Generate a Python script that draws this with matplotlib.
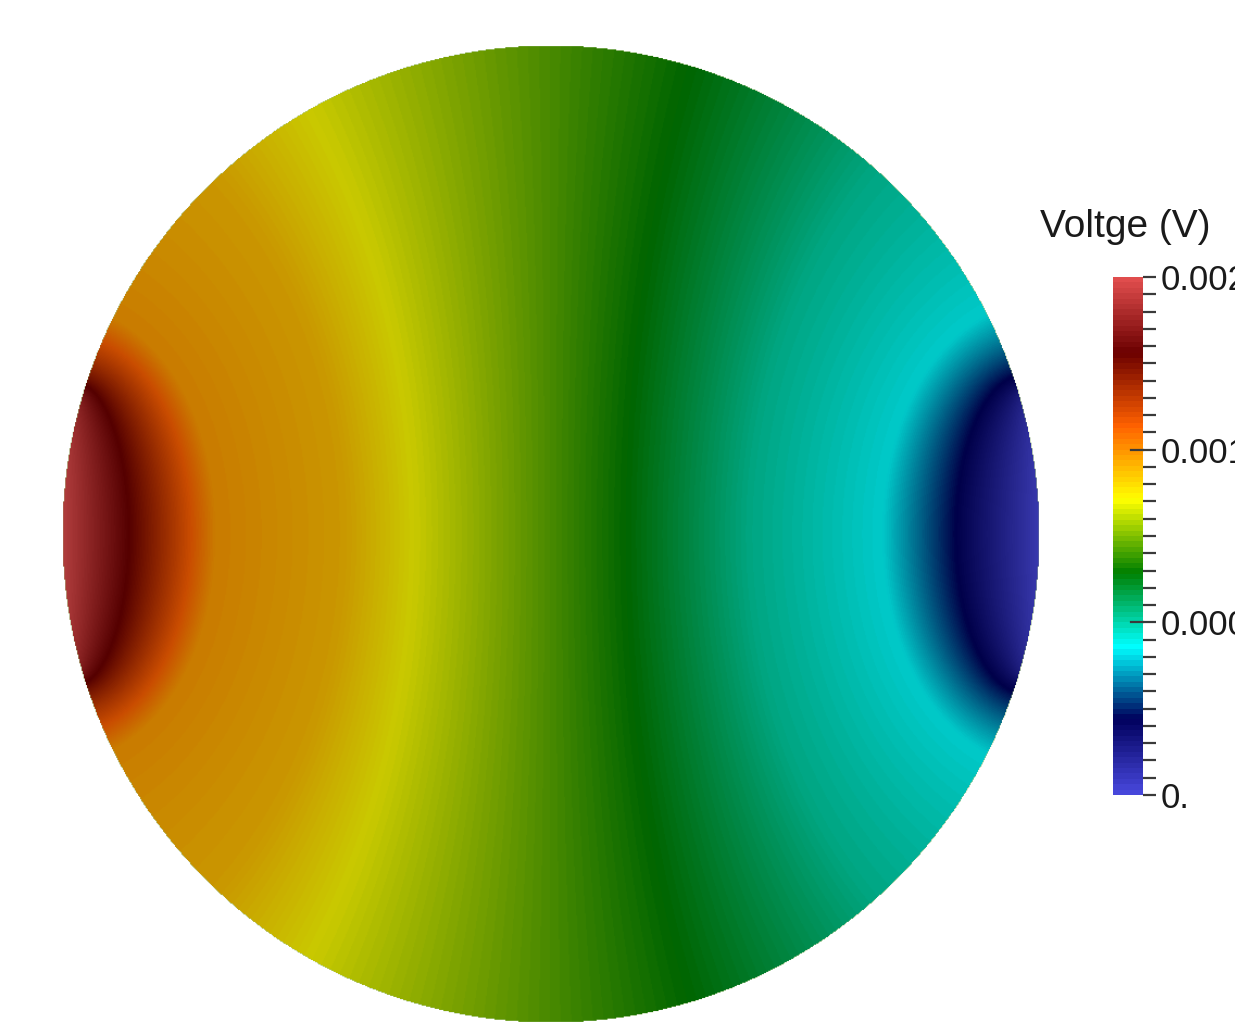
import numpy as np
import matplotlib
matplotlib.use("Agg")
import matplotlib.pyplot as plt
from matplotlib.colors import LinearSegmentedColormap, Normalize
from matplotlib.cm import ScalarMappable

# "Rainbow Desaturated" colour map control points
cmap_positions = [0.0, 0.143, 0.285, 0.429, 0.571, 0.714, 0.857, 1.0]
cmap_colors = [
    (0.278, 0.278, 0.859),
    (0.000, 0.000, 0.361),
    (0.000, 1.000, 1.000),
    (0.000, 0.502, 0.000),
    (1.000, 1.000, 0.000),
    (1.000, 0.380, 0.000),
    (0.420, 0.000, 0.000),
    (0.878, 0.302, 0.302),
]

# Voltage range and colour-bar labelling
v_min, v_max = 0.0, 0.002
tick_values = [0.0, 0.002 / 3, 0.004 / 3, 0.002]
tick_labels = ["0.", "0.00066667", "0.0013333", "0.002"]
n_minor_intervals = 30
bar_title = "Voltge (V)"

# Voltage along the horizontal diameter (position -1 = left rim, +1 = right rim)
mid_position = [-1.0, -0.865, -0.738, -0.687, -0.425, -0.282, 0.0, 0.155, 0.407, 0.679, 0.83, 1.0]
mid_voltage = [0.00200, 0.001714, 0.001428, 0.00132, 0.001256, 0.001142,
               0.00096, 0.000858, 0.000674, 0.00057, 0.000286, 0.0]

# Electrode model: two opposite electrodes (left = source, right = sink)
electrode_half_angle_deg = 17.0
contact_impedance = 0.12        # relative to disk radius and conductivity
n_harmonics = 241

# Surface lighting factor of the rendered disk
surface_shade = 0.79


def solve_disk_potential(half_angle, z_contact, n_max):
    """Odd cosine series for the potential of a unit disk with two
    opposite electrodes (complete electrode model, insulated elsewhere)."""
    orders = np.arange(1, n_max + 1, 2)
    th_e = np.linspace(np.pi - half_angle, np.pi, 700)
    th_i = np.linspace(np.pi / 2, np.pi - half_angle, 1400)
    rows_e = (1.0 + z_contact * orders)[None, :] * np.cos(np.outer(th_e, orders))
    rows_i = orders[None, :] * np.cos(np.outer(th_i, orders)) * 0.05
    A = np.vstack([rows_e, rows_i])
    b = np.concatenate([np.ones(len(th_e)), np.zeros(len(th_i))])
    coeffs, *_ = np.linalg.lstsq(A, b, rcond=None)
    return coeffs


def series_potential(coeffs, z):
    out = np.zeros(z.shape)
    zn = z.copy()
    z2 = z * z
    for a in coeffs:
        out += a * zn.real
        zn *= z2
    return out


coeffs = solve_disk_potential(np.deg2rad(electrode_half_angle_deg),
                              contact_impedance, n_harmonics)
phi_peak = -np.sum(coeffs)          # value at the centre of the source electrode

npx = 900
g = np.linspace(-1.0, 1.0, npx)
X, Y = np.meshgrid(g, g)
Z = X + 1j * Y
inside = np.abs(Z) <= 1.0
Zc = np.where(inside, Z, 0.0)
phi = np.clip(series_potential(coeffs, Zc) / phi_peak, -1.0, 1.0)

# Equipotentials follow the electrode model; their voltage is taken from the
# profile along the horizontal diameter.
s_line = np.linspace(-1.0, 1.0, 4001)
phi_line = np.clip(series_potential(coeffs, s_line.astype(complex)) / phi_peak, -1.0, 1.0)
phi_line = np.minimum.accumulate(phi_line)          # monotone along the diameter
s_equiv = np.interp(-phi, -phi_line, s_line)
volt = np.interp(s_equiv, mid_position, mid_voltage)

norm = Normalize(v_min, v_max)
cmap = LinearSegmentedColormap.from_list(
    "rainbow_desat", list(zip(cmap_positions, cmap_colors)), N=256)
rgba = cmap(norm(volt))
rgba[..., :3] *= surface_shade
rgba[..., 3] = inside.astype(float)

W, H = 1235, 1023
fig = plt.figure(figsize=(W / 100, H / 100), dpi=100)
fig.patch.set_facecolor("white")

# Disk view
cx, cy, rad = 551, 534, 489
ax = fig.add_axes([(cx - rad) / W, 1 - (cy + rad) / H, 2 * rad / W, 2 * rad / H])
ax.imshow(rgba, extent=[-1, 1, -1, 1], origin="lower", interpolation="bilinear")
ax.set_xlim(-1, 1)
ax.set_ylim(-1, 1)
ax.axis("off")

# Colour bar
plt.rcParams["font.family"] = ["Liberation Sans", "DejaVu Sans"]
bar_l, bar_t, bar_w, bar_h = 1113, 277, 30, 518
cax = fig.add_axes([bar_l / W, 1 - (bar_t + bar_h) / H, bar_w / W, bar_h / H])
sm = ScalarMappable(norm=norm, cmap=LinearSegmentedColormap.from_list(
    "rainbow_desat_bar", list(zip(cmap_positions, cmap_colors)), N=96))
cb = fig.colorbar(sm, cax=cax)
cb.outline.set_visible(False)
cb.set_ticks(tick_values)
cb.set_ticklabels(tick_labels)
cax.set_yticks(np.linspace(v_min, v_max, n_minor_intervals + 1), minor=True)
cax.tick_params(which="both", axis="y", direction="out", length=9.5, width=1.6,
                color="#3a3a3a", pad=3.5, labelsize=25, labelcolor="#1a1a1a")
for t in tick_values[1:-1]:
    cax.plot([0.6, 1.0], [t, t], transform=cax.get_yaxis_transform(),
             color="#3a3a3a", lw=1.6, clip_on=False)

fig.text(1040 / W, 1 - 237 / H, bar_title, fontsize=28, color="#1a1a1a",
         ha="left", va="baseline")

fig.savefig("out.png", dpi=100, facecolor="white")
